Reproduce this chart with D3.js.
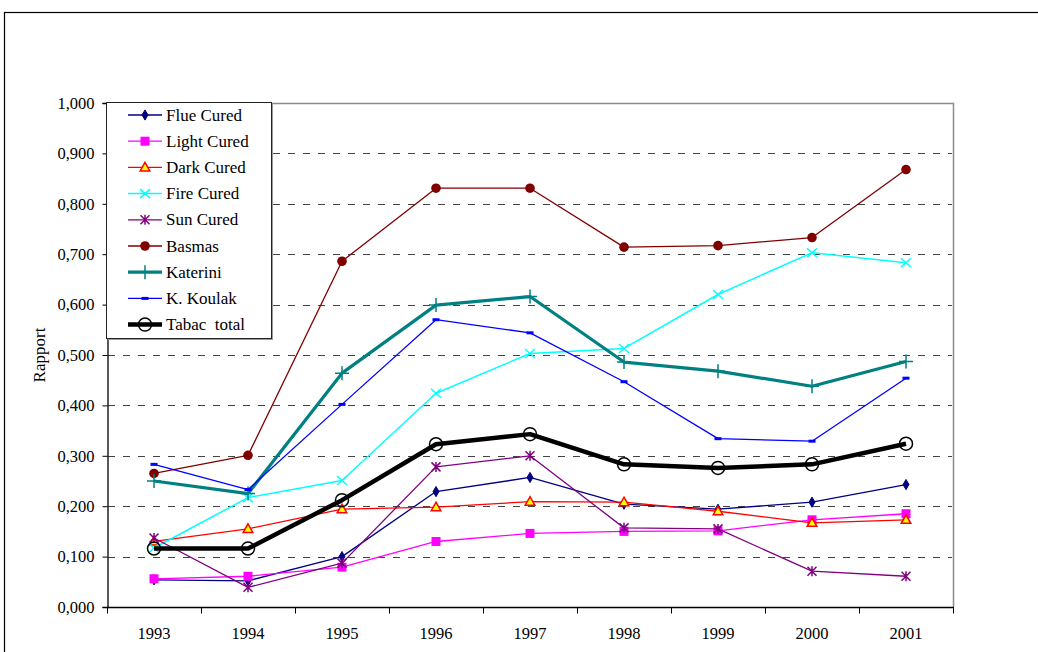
<!DOCTYPE html>
<html>
<head>
<meta charset="utf-8">
<script src="https://cdn.jsdelivr.net/npm/d3@7"></script>
<style>
  body { margin: 0; background: #fff; }
  svg text { font-family: "Times New Roman", Times, Tinos, "Liberation Serif", "DejaVu Serif", serif !important; fill: #000; }
</style>
</head>
<body>
<svg id="chart" width="1038" height="652"></svg>
<script>
// data
const years = ["1993", "1994", "1995", "1996", "1997", "1998", "1999", "2000", "2001"];
const yTicks = [0, 0.1, 0.2, 0.3, 0.4, 0.5, 0.6, 0.7, 0.8, 0.9, 1.0];

const flueCured  = [0.054, 0.052, 0.100, 0.229, 0.257, 0.204, 0.194, 0.208, 0.243];
const lightCured = [0.056, 0.061, 0.079, 0.130, 0.146, 0.150, 0.151, 0.173, 0.185];
const darkCured  = [0.130, 0.155, 0.194, 0.198, 0.209, 0.208, 0.190, 0.167, 0.173];
const fireCured  = [0.117, 0.217, 0.251, 0.424, 0.503, 0.513, 0.620, 0.703, 0.683];
const sunCured   = [0.137, 0.039, 0.087, 0.278, 0.300, 0.157, 0.155, 0.071, 0.061];
const basmas     = [0.265, 0.301, 0.686, 0.831, 0.831, 0.714, 0.717, 0.733, 0.868];
const katerini   = [0.250, 0.225, 0.464, 0.599, 0.616, 0.486, 0.468, 0.438, 0.487];
const kKoulak    = [0.283, 0.233, 0.402, 0.570, 0.544, 0.447, 0.334, 0.329, 0.454];
const tabacTotal = [0.116, 0.116, 0.212, 0.323, 0.343, 0.283, 0.276, 0.283, 0.324];

const seriesNames = ["Flue Cured", "Light Cured", "Dark Cured", "Fire Cured", "Sun Cured",
                     "Basmas", "Katerini", "K. Koulak", "Tabac  total"];
const seriesValues = [flueCured, lightCured, darkCured, fireCured, sunCured,
                      basmas, katerini, kKoulak, tabacTotal];

// look of each series
const styles = [
  { color: "#000080", width: 1.3, marker: "diamond" },
  { color: "#ff00ff", width: 1.3, marker: "square" },
  { color: "#ff0000", width: 1.3, marker: "triangle" },
  { color: "#00ffff", width: 1.5, marker: "cross" },
  { color: "#800080", width: 1.3, marker: "star" },
  { color: "#800000", width: 1.3, marker: "circle" },
  { color: "#008080", width: 3.2, marker: "plus" },
  { color: "#0000ff", width: 1.3, marker: "dash" },
  { color: "#000000", width: 4.5, marker: "ring" }
];

const plot = { left: 107, right: 953, top: 103, bottom: 607 };

const svg = d3.select("#chart");

// outer frame
svg.append("rect")
  .attr("x", 4.5).attr("y", 12.5)
  .attr("width", 1100).attr("height", 700)
  .attr("fill", "none").attr("stroke", "#000").attr("stroke-width", 1.2);

const x = d3.scaleBand().domain(years).range([plot.left, plot.right]);
const y = d3.scaleLinear().domain([0, 1]).range([plot.bottom, plot.top]);
const cx = d => x(d) + x.bandwidth() / 2;

// plot frame (top and right, gray)
svg.append("path")
  .attr("d", `M${plot.left},${plot.top + 0.5}H${plot.right + 0.5}V${plot.bottom}`)
  .attr("fill", "none").attr("stroke", "#8c8c8c").attr("stroke-width", 1.5);

// dashed grid
svg.append("g")
  .selectAll("line")
  .data(yTicks.filter(t => t > 0 && t < 1))
  .join("line")
  .attr("x1", plot.left + 1).attr("x2", plot.right - 1)
  .attr("y1", d => Math.round(y(d)) + 0.5).attr("y2", d => Math.round(y(d)) + 0.5)
  .attr("stroke", "#444").attr("stroke-width", 1)
  .attr("stroke-dasharray", "7,8");

// axes
const fmt = d => d3.format(".3f")(d).replace(".", ",");
const yAxis = svg.append("g")
  .attr("transform", `translate(${plot.left + 0.5},0)`)
  .call(d3.axisLeft(y).tickValues(yTicks).tickFormat(fmt).tickSize(5).tickPadding(8));
const xAxis = svg.append("g")
  .attr("transform", `translate(0,${plot.bottom + 0.5})`)
  .call(d3.axisBottom(x).tickSize(0).tickPadding(20));

// x ticks sit on band boundaries
xAxis.append("g")
  .selectAll("line")
  .data(d3.range(years.length + 1))
  .join("line")
  .attr("x1", i => Math.round(plot.left + i * x.bandwidth()) + 0.5)
  .attr("x2", i => Math.round(plot.left + i * x.bandwidth()) + 0.5)
  .attr("y1", 0).attr("y2", 6)
  .attr("stroke", "#000");

[yAxis, xAxis].forEach(g => {
  g.attr("font-family", null).attr("font-size", null);
  g.select(".domain").attr("stroke", "#000").attr("stroke-width", 1.3);
  g.selectAll("text")
    .style("font-size", "16.5px")
    .attr("fill", "#000");
  g.selectAll(".tick line").attr("stroke", "#000");
});
xAxis.select(".domain").attr("d", `M${plot.left},0H${plot.right + 1}`);

svg.append("text")
  .attr("transform", `translate(45,${(plot.top + plot.bottom) / 2}) rotate(-90)`)
  .attr("text-anchor", "middle")
  .style("font-size", "17px")
  .text("Rapport");

// markers
function drawMarker(g, type, color) {
  switch (type) {
    case "diamond":
      g.append("path").attr("d", d3.symbol(d3.symbolDiamond, 30)())
        .attr("fill", color).attr("stroke", color); break;
    case "square":
      g.append("rect").attr("x", -4.5).attr("y", -4.5).attr("width", 9).attr("height", 9)
        .attr("fill", color); break;
    case "triangle":
      g.append("path").attr("d", "M0,-5L4.8,3.5L-4.8,3.5Z")
        .attr("fill", "#ffff00").attr("stroke", color).attr("stroke-width", 1.5); break;
    case "cross":
      g.append("path").attr("d", "M-5,-4.5L5,4.5M-5,4.5L5,-4.5")
        .attr("stroke", color).attr("stroke-width", 1.5); break;
    case "star":
      g.append("path").attr("d", "M-4.5,-4.5L4.5,4.5M-4.5,4.5L4.5,-4.5M0,-5V5")
        .attr("stroke", color).attr("stroke-width", 1.5); break;
    case "circle":
      g.append("circle").attr("r", 4.8).attr("fill", color); break;
    case "plus":
      g.append("path").attr("d", "M-7,0H7M0,-7V7")
        .attr("stroke", color).attr("stroke-width", 1.5); break;
    case "dash":
      g.append("rect").attr("x", -3.5).attr("y", -1.5).attr("width", 7).attr("height", 3)
        .attr("fill", color); break;
    case "ring":
      g.append("circle").attr("r", 6.5).attr("fill", "none")
        .attr("stroke", color).attr("stroke-width", 1.5); break;
  }
}

// series lines and points
const line = d3.line().x((d, i) => cx(years[i])).y(d => y(d));
seriesValues.forEach((vals, s) => {
  const st = styles[s];
  const g = svg.append("g").attr("class", "series");
  g.append("path")
    .datum(vals)
    .attr("d", line)
    .attr("fill", "none")
    .attr("stroke", st.color)
    .attr("stroke-width", st.width)
    .attr("stroke-linejoin", "round");
  g.selectAll(".pt")
    .data(vals)
    .join("g")
    .attr("class", "pt")
    .attr("transform", (d, i) => `translate(${cx(years[i])},${y(d)})`)
    .each(function () { drawMarker(d3.select(this), st.marker, st.color); });
});

// legend
const legend = svg.append("g").attr("transform", "translate(106,102)");
legend.append("rect")
  .attr("x", 2).attr("y", 2).attr("width", 165).attr("height", 236)
  .attr("fill", "#9a9a9a");
legend.append("rect")
  .attr("x", 0.5).attr("y", 0.5).attr("width", 165).attr("height", 236)
  .attr("fill", "#fff").attr("stroke", "#222").attr("stroke-width", 1);

const rowGap = 26.2;
seriesNames.forEach((name, s) => {
  const st = styles[s];
  const row = legend.append("g").attr("transform", `translate(0,${13 + s * rowGap})`);
  row.append("line")
    .attr("x1", 22).attr("x2", 56).attr("y1", 0).attr("y2", 0)
    .attr("stroke", st.color).attr("stroke-width", st.width);
  drawMarker(row.append("g").attr("transform", "translate(39,0)"), st.marker, st.color);
  row.append("text")
    .attr("x", 60).attr("y", 5.5)
    .attr("xml:space", "preserve")
    .style("white-space", "pre")
    .style("font-size", "17px")
    .text(name);
});
</script>
</body>
</html>
